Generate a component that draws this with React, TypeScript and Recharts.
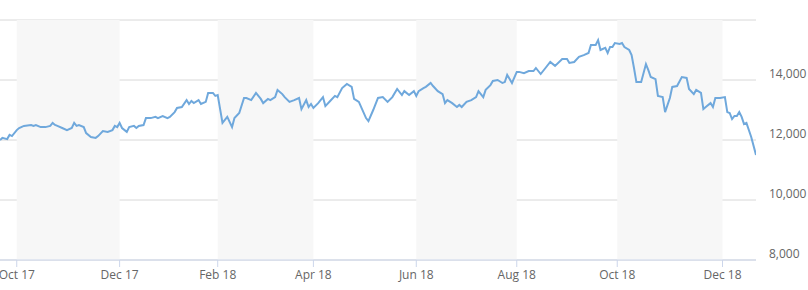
import { LineChart, Line, XAxis, YAxis, CartesianGrid, ReferenceArea } from "recharts";

// trading-day index since Sep 21 2017, and closing value
const dayIdx = [
  0, 1, 3, 4, 5, 7, 8, 10, 13, 14, 15, 17, 19, 21, 22, 23, 24, 26, 28, 30,
  31, 32, 33, 35, 36, 38, 40, 41, 43, 45, 47, 48, 49, 50, 51, 53, 54, 56, 57, 58,
  60, 61, 63, 65, 66, 68, 70, 71, 73, 74, 76, 78, 79, 80, 81, 83, 84, 86, 87, 89,
  90, 91, 93, 95, 97, 98, 100, 102, 103, 105, 107, 109, 110, 112, 113, 115, 116, 118, 119, 121,
  123, 125, 126, 128, 129, 130, 131, 133, 135, 136, 138, 140, 141, 143, 145, 147, 148, 150, 153, 154,
  156, 158, 160, 162, 164, 166, 168, 169, 171, 173, 174, 175, 177, 178, 180, 181, 183, 185, 186, 187,
  189, 191, 192, 193, 195, 197, 199, 200, 202, 203, 205, 206, 208, 210, 211, 212, 214, 216, 217, 219,
  221, 223, 224, 226, 228, 230, 232, 235, 237, 238, 240, 242, 244, 246, 247, 249, 250, 251, 253, 254,
  255, 256, 257, 259, 260, 261, 263, 264, 265, 266, 268, 270, 271, 272, 274, 275, 277, 278, 280, 281,
  283, 285, 287, 288, 290, 291, 293, 294, 295, 297, 298, 299, 301, 303, 304, 305, 306, 307, 308, 309,
  310, 311, 312, 314, 316,
];

const closes = [
  12000, 12070, 12030, 12170, 12130, 12330, 12400, 12470, 12500, 12470, 12500, 12430, 12430, 12470, 12570, 12500, 12470, 12400, 12330, 12400,
  12570, 12470, 12500, 12430, 12230, 12100, 12070, 12130, 12300, 12270, 12330, 12470, 12430, 12570, 12400, 12270, 12430, 12470, 12400, 12470,
  12500, 12730, 12730, 12770, 12730, 12800, 12730, 12770, 12930, 13070, 13100, 13330, 13200, 13300, 13230, 13330, 13200, 13270, 13570, 13570,
  13470, 13500, 12570, 12770, 12430, 12730, 12900, 13400, 13400, 13330, 13570, 13370, 13230, 13370, 13330, 13430, 13670, 13530, 13430, 13270,
  13330, 13400, 13030, 13330, 13100, 13200, 13070, 13230, 13430, 13130, 13300, 13470, 13430, 13730, 13870, 13770, 13370, 13270, 12730, 12630,
  13000, 13400, 13430, 13270, 13430, 13700, 13500, 13630, 13500, 13630, 13470, 13630, 13730, 13770, 13900, 13800, 13630, 13530, 13230, 13330,
  13230, 13100, 13170, 13100, 13270, 13330, 13430, 13630, 13430, 13670, 13830, 13970, 14000, 13900, 13930, 14170, 13900, 14270, 14270, 14230,
  14300, 14300, 14400, 14200, 14400, 14600, 14470, 14700, 14700, 14570, 14600, 14770, 14830, 14900, 15170, 15170, 15330, 15000, 15070, 14900,
  15100, 15100, 15230, 15200, 15230, 15100, 15000, 14830, 14400, 13930, 13930, 14530, 14330, 14100, 14030, 13470, 13430, 12930, 13400, 13770,
  13800, 14100, 14070, 13700, 13530, 13670, 13570, 13030, 13100, 13230, 13100, 13400, 13400, 13430, 12930, 12900, 12700, 12800, 12800, 12930,
  12770, 12530, 12570, 12100, 11500,
];

// first trading day of each labelled month
const tickIdx = [7, 50, 91, 131, 174, 216, 258, 302];
const tickLabels = ["Oct 17", "Dec 17", "Feb 18", "Apr 18", "Jun 18", "Aug 18", "Oct 18", "Dec 18"];
const yTicks = [8000, 10000, 12000, 14000, 16000];

const data = dayIdx.map((t, i) => ({ t, close: closes[i] }));
const bands = [0, 2, 4, 6].map((i) => [tickIdx[i], tickIdx[i + 1]]);

const FONT = "'Open Sans', sans-serif";

function XTick({ x, y, payload }: any) {
  const label = tickLabels[tickIdx.indexOf(payload.value)];
  return (
    <text x={x} y={y + 10} textAnchor="middle" fill="#666" fontSize={12} fontFamily={FONT}>
      {label}
    </text>
  );
}

function YTick({ x, y, payload }: any) {
  if (payload.value === 16000) return null;
  return (
    <text x={x + 8} y={y - 2} textAnchor="start" fill="#666" fontSize={12} fontFamily={FONT}>
      {payload.value.toLocaleString("en-US")}
    </text>
  );
}

export default function App() {
  return (
    <div style={{ position: "absolute", left: 0, top: 0, background: "#fff" }}>
      <LineChart width={808} height={290} data={data} margin={{ top: 20, right: 0, left: 0, bottom: 0 }}>
        {bands.map(([a, b]) => (
          <ReferenceArea key={a} x1={a} x2={b} fill="#f7f7f7" fillOpacity={1} strokeOpacity={0} />
        ))}
        <CartesianGrid horizontal vertical={false} stroke="#d8d8d8" />
        <XAxis
          dataKey="t"
          type="number"
          domain={[0, 316]}
          ticks={tickIdx}
          height={30}
          stroke="#ccd6eb"
          tickSize={7}
          tick={<XTick />}
          interval={0}
          allowDataOverflow
        />
        <YAxis
          orientation="right"
          width={52}
          domain={[8000, 16000]}
          ticks={yTicks}
          axisLine={false}
          tickLine={false}
          tickSize={5}
          tickMargin={0}
          tick={<YTick />}
          interval={0}
        />
        <Line
          type="linear"
          dataKey="close"
          stroke="#6fa8dc"
          strokeWidth={2}
          dot={false}
          isAnimationActive={false}
        />
      </LineChart>
    </div>
  );
}
